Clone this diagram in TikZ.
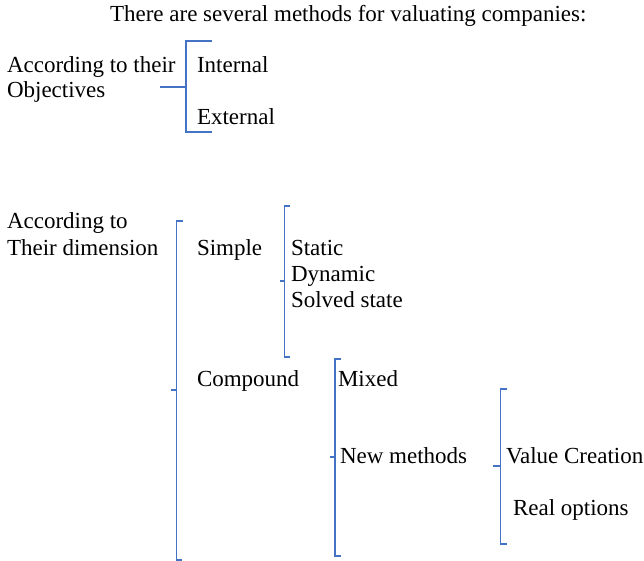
\documentclass[tikz,border=0pt]{standalone}
\usepackage{fontspec}
\setmainfont{Liberation Serif}
\definecolor{brblue}{HTML}{4472C4}
\begin{document}
\begin{tikzpicture}[x=1pt,y=-1pt,
  lbl/.style={anchor=base west,inner sep=0pt,outer sep=0pt,font=\fontsize{23}{26}\selectfont},
  brk/.style={draw=brblue,line width=1.8pt,line cap=butt,line join=miter}]
\useasboundingbox (0,0) rectangle (644,561);
% title
\node[lbl] (title) at (110,22) {There are several methods for valuating companies:};
% part 1
\node[lbl] (obj1) at (7,73) {According to their};
\node[lbl] (obj2) at (7,98) {Objectives};
\node[lbl] (int) at (197,73) {Internal};
\node[lbl] (ext) at (197,125) {External};
\draw[brk] (212,41) -- (186,41) -- (186,132) -- (212,132);
\draw[brk] (160,87) -- (186,87);
% part 2
\node[lbl] (dim1) at (7,228) {According to};
\node[lbl] (dim2) at (7,255) {Their dimension};
\draw[brk] (183,221) -- (176.5,221) -- (176.5,560) -- (182,560);
\draw[brk] (171,390) -- (176.5,390);
\node[lbl] (simple) at (197,255) {Simple};
\draw[brk] (290,206) -- (284.5,206) -- (284.5,357) -- (290,357);
\draw[brk] (279.5,281) -- (284.5,281);
\node[lbl] (static) at (291,255) {Static};
\node[lbl] (dynamic) at (291,281) {Dynamic};
\node[lbl] (solved) at (291,307) {Solved state};
\node[lbl] (compound) at (197,386) {Compound};
\draw[brk] (341,359) -- (335,359) -- (335,556) -- (341,556);
\draw[brk] (330,457) -- (335,457);
\node[lbl] (mixed) at (338,386) {Mixed};
\node[lbl] (newm) at (340,463) {New methods};
\draw[brk] (507,389) -- (500.5,389) -- (500.5,544) -- (507,544);
\draw[brk] (493,466) -- (500.5,466);
\node[lbl] (value) at (506,463) {Value Creation};
\node[lbl] (real) at (513,515) {Real options};
\end{tikzpicture}
\end{document}
